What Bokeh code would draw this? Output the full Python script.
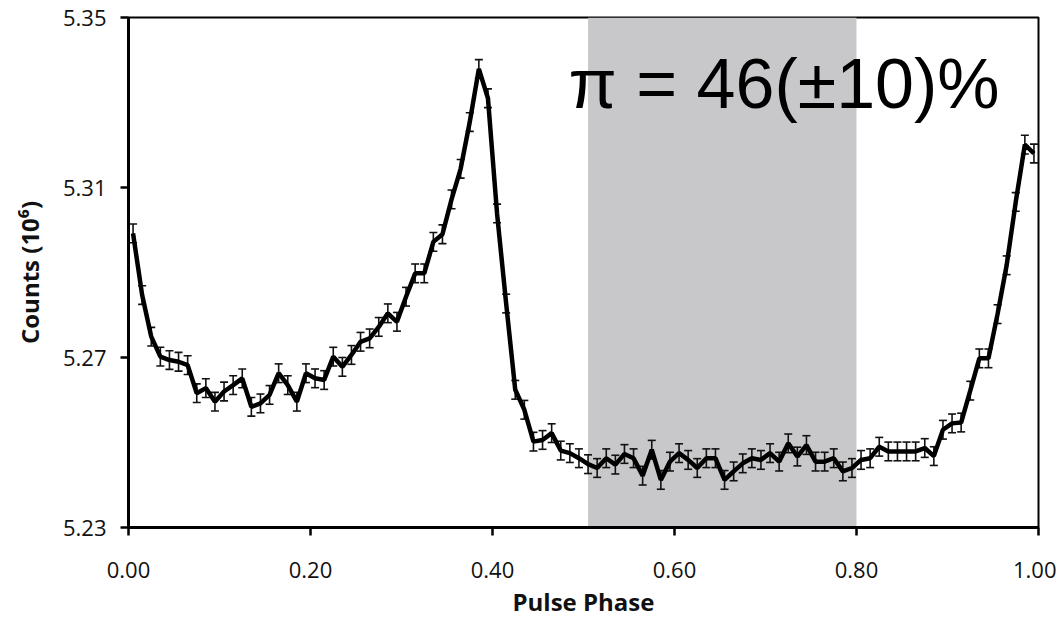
import numpy as np
from bokeh.plotting import figure
from bokeh.models import (ColumnDataSource, BoxAnnotation, Label, Whisker, TeeHead,
                          FixedTicker, Range1d, NumeralTickFormatter)
from bokeh.embed import file_html
from bokeh.resources import INLINE

# Pulse phase bin centres (100 bins of 0.01)
phase = np.round(np.arange(0.005, 1.0, 0.01), 3)

# Counts (10^6)
counts = [
    5.2992, 5.2847, 5.2749, 5.2702, 5.2694, 5.2690, 5.2682, 5.2616, 5.2628, 5.2596,
    5.2620, 5.2635, 5.2651, 5.2584, 5.2592, 5.2612, 5.2663, 5.2635, 5.2596, 5.2663,
    5.2651, 5.2647, 5.2702, 5.2678, 5.2706, 5.2737, 5.2745, 5.2772, 5.2804, 5.2784,
    5.2843, 5.2898, 5.2898, 5.2972, 5.2990, 5.3072, 5.3144, 5.3254, 5.3379, 5.3310,
    5.3039, 5.2827, 5.2624, 5.2577, 5.2502, 5.2506, 5.2522, 5.2481, 5.2475, 5.2463,
    5.2449, 5.2440, 5.2463, 5.2448, 5.2473, 5.2463, 5.2422, 5.2483, 5.2412, 5.2455,
    5.2475, 5.2459, 5.2440, 5.2463, 5.2463, 5.2412, 5.2432, 5.2451, 5.2463, 5.2459,
    5.2475, 5.2455, 5.2498, 5.2467, 5.2494, 5.2455, 5.2455, 5.2463, 5.2432, 5.2440,
    5.2459, 5.2463, 5.2490, 5.2479, 5.2479, 5.2479, 5.2479, 5.2487, 5.2468, 5.2530,
    5.2545, 5.2547, 5.2622, 5.2698, 5.2698, 5.2802, 5.2917, 5.3066, 5.3201, 5.3180,
]
ERR = 0.0022  # error bar half-height (10^6 counts)

x_ticks = [0.0, 0.2, 0.4, 0.6, 0.8, 1.0]
y_ticks = [5.23, 5.27, 5.31, 5.35]
off_pulse = (0.505, 0.80)
annotation_text = "π = 46(±10)%"

lower = [c - ERR for c in counts]
upper = [c + ERR for c in counts]
src = ColumnDataSource(dict(x=phase, y=counts, lower=lower, upper=upper))

p = figure(width=1056, height=620, output_backend="svg", toolbar_location=None,
           x_range=Range1d(0, 1), y_range=Range1d(5.23, 5.35),
           min_border_left=128, min_border_right=18, min_border_top=17, min_border_bottom=92)
p.background_fill_color = "white"
p.border_fill_color = "white"
p.outline_line_color = "black"
p.outline_line_width = 2
p.grid.visible = False

band = BoxAnnotation(left=off_pulse[0], right=off_pulse[1], fill_color="#c8c8cb",
                     fill_alpha=1.0, line_color=None, level="underlay")
p.add_layout(band)

p.line("x", "y", source=src, line_color="black", line_width=4.5)
wh = Whisker(source=src, base="x", lower="lower", upper="upper", dimension="height",
             line_color="#111111", line_width=1.6,
             upper_head=TeeHead(size=8, line_color="#111111", line_width=1.6),
             lower_head=TeeHead(size=8, line_color="#111111", line_width=1.6))
p.add_layout(wh)

p.add_layout(Label(x=0.4835, y=5.3343, text=annotation_text, text_font="Liberation Sans",
                   text_font_size="70px", text_color="black", text_baseline="alphabetic"))

for ax in (p.xaxis[0], p.yaxis[0]):
    ax.axis_line_width = 3
    ax.axis_line_color = "black"
    ax.major_tick_line_width = 2.5
    ax.major_tick_line_color = "black"
    ax.major_tick_in = 0
    ax.major_tick_out = 8
    ax.minor_tick_line_color = None
    ax.major_label_text_font = "Open Sans"
    ax.major_label_text_font_size = "22px"
    ax.major_label_text_color = "#111111"
    ax.axis_label_text_font = "Open Sans"
    ax.axis_label_text_font_style = "bold"
    ax.axis_label_text_font_size = "24px"
    ax.axis_label_text_color = "#111111"

p.xaxis.ticker = FixedTicker(ticks=x_ticks)
p.yaxis.ticker = FixedTicker(ticks=y_ticks)
p.xaxis.formatter = NumeralTickFormatter(format="0.00")
p.yaxis.formatter = NumeralTickFormatter(format="0.00")
p.xaxis.axis_label = "Pulse Phase"
p.yaxis.axis_label = "Counts (10⁶)"
p.xaxis.major_label_standoff = 26
p.xaxis.axis_label_standoff = 4
p.yaxis.major_label_standoff = 14
p.yaxis.axis_label_standoff = 14
p.yaxis.major_label_orientation = "horizontal"

open("out.html", "w").write(file_html(p, INLINE))
